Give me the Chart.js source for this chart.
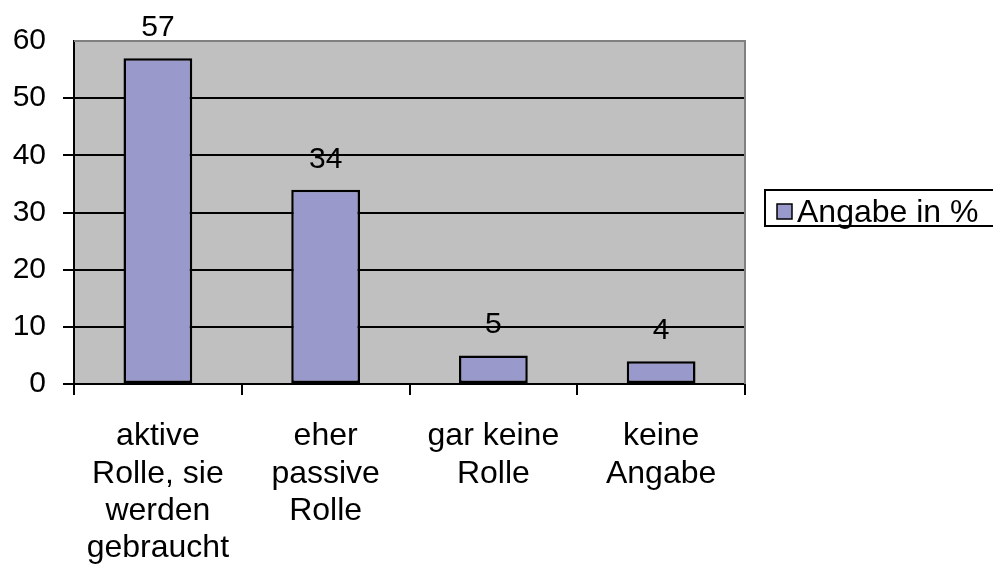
<!DOCTYPE html>
<html>
<head>
<meta charset="utf-8">
<script src="https://cdn.jsdelivr.net/npm/chart.js@4"></script>
<style>
  html, body { margin: 0; padding: 0; background: #fff; }
  #wrap { width: 993px; height: 568px; }
</style>
</head>
<body>
<div id="wrap"><canvas id="barChart" width="993" height="568"></canvas></div>
<script>
const categories = [
  ["aktive", "Rolle, sie", "werden", "gebraucht"],
  ["eher", "passive", "Rolle"],
  ["gar keine", "Rolle"],
  ["keine", "Angabe"],
];
const values = [57, 34, 5, 4];
const seriesLabel = "Angabe in %";
const yMax = 60;
const yStep = 10;

const FONT = "'Liberation Sans', Arial, sans-serif";
const FONT_SIZE = 30;
const BAR_COLOR = "#9999CC";

// grey plot background, grey frame, value labels and the legend box
const excelPlugin = {
  id: "excelPlugin",
  beforeDraw: (chart) => {
    const { ctx, chartArea } = chart;
    ctx.save();
    ctx.fillStyle = "#C0C0C0";
    ctx.fillRect(chartArea.left, chartArea.top, chartArea.right - chartArea.left, chartArea.bottom - chartArea.top);
    ctx.restore();
  },
  afterDraw: (chart) => {
    const { ctx, chartArea } = chart;
    ctx.save();
    // grey frame top + right
    ctx.strokeStyle = "#808080";
    ctx.lineWidth = 2;
    ctx.beginPath();
    ctx.moveTo(chartArea.left, chartArea.top);
    ctx.lineTo(chartArea.right, chartArea.top);
    ctx.lineTo(chartArea.right, chartArea.bottom);
    ctx.stroke();

    // value labels above bars
    const meta = chart.getDatasetMeta(0);
    ctx.fillStyle = "#000";
    ctx.font = FONT_SIZE + "px " + FONT;
    ctx.textAlign = "center";
    ctx.textBaseline = "alphabetic";
    meta.data.forEach((bar, i) => {
      ctx.fillText(String(values[i]), bar.x, bar.y - 22);
    });

    // legend
    const lx = 765, ly = 190, lh = 36;
    ctx.fillStyle = "#fff";
    ctx.fillRect(lx, ly, 993 - lx + 10, lh);
    ctx.strokeStyle = "#000";
    ctx.lineWidth = 2;
    ctx.strokeRect(lx, ly, 993 - lx + 10, lh);
    ctx.fillStyle = BAR_COLOR;
    ctx.fillRect(777, 204, 15, 15);
    ctx.lineWidth = 1.5;
    ctx.strokeRect(777, 204, 15, 15);
    ctx.fillStyle = "#000";
    ctx.textAlign = "left";
    ctx.font = "32px " + FONT;
    ctx.fillText(seriesLabel, 797, 222);
    ctx.restore();
  },
};

const ctx = document.getElementById("barChart").getContext("2d");

new Chart(ctx, {
  type: "bar",
  data: {
    labels: categories,
    datasets: [
      {
        label: seriesLabel,
        data: values,
        backgroundColor: BAR_COLOR,
        borderColor: "#000",
        borderWidth: 2.5,
        borderSkipped: false,
        barPercentage: 0.41,
        categoryPercentage: 1,
      },
    ],
  },
  options: {
    responsive: false,
    animation: false,
    layout: { padding: { top: 41, right: 248, left: 0, bottom: 0 } },
    plugins: {
      legend: { display: false },
      tooltip: { enabled: false },
    },
    scales: {
      x: {
        afterFit: (scale) => { scale.height = 184; },
        grid: {
          offset: true,
          drawOnChartArea: false,
          color: "#000",
          lineWidth: 2,
          tickLength: 11,
        },
        border: { display: true, color: "#000", width: 2 },
        ticks: {
          color: "#000",
          padding: 23,
          maxRotation: 0,
          font: { family: FONT, size: 32, lineHeight: 1.16 },
        },
      },
      y: {
        min: 0,
        max: yMax,
        afterFit: (scale) => { scale.width = 74; },
        grid: {
          color: (c) => (c.tick.value === yMax ? "rgba(0,0,0,0)" : "#000"),
          lineWidth: 2,
          tickLength: 11,
        },
        border: { display: true, color: "#000", width: 2 },
        ticks: {
          stepSize: yStep,
          color: "#000",
          padding: 17,
          font: { family: FONT, size: FONT_SIZE },
        },
      },
    },
  },
  plugins: [excelPlugin],
});
</script>
</body>
</html>
